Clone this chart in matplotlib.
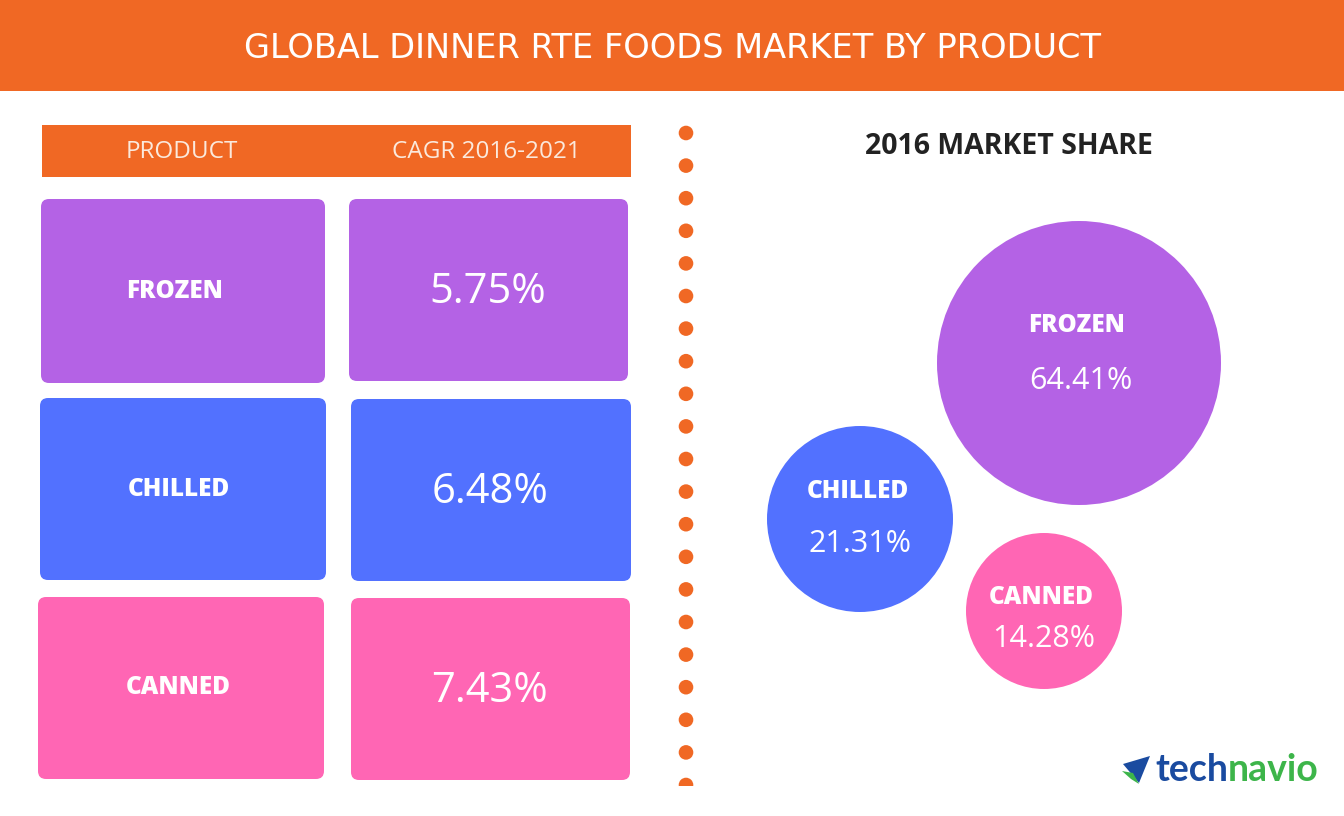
import matplotlib
matplotlib.use("Agg")
import matplotlib.pyplot as plt
from matplotlib.patches import FancyBboxPatch, Rectangle, Circle, Polygon

# ---- data ----
title = "GLOBAL DINNER RTE FOODS MARKET BY PRODUCT"
col_headers = ["PRODUCT", "CAGR 2016-2021"]
products = ["FROZEN", "CHILLED", "CANNED"]
cagr = [5.75, 6.48, 7.43]
share_title = "2016 MARKET SHARE"
share_2016 = [64.41, 21.31, 14.28]

# ---- style ----
ORANGE = "#F06824"
colors = ["#B462E5", "#5271FF", "#FF66B4"]
W, H = 1344, 816

fig = plt.figure(figsize=(W / 100, H / 100), dpi=100)
ax = fig.add_axes([0, 0, 1, 1])
ax.set_xlim(0, W)
ax.set_ylim(H, 0)
ax.axis("off")

FONT = "Open Sans"

# header
ax.add_patch(Rectangle((0, 0), W, 91, color=ORANGE, lw=0))
ax.text(672, 48, title, color="white", fontsize=24.2, family="DejaVu Sans",
        ha="center", va="center")

# table header
ax.add_patch(Rectangle((42, 125), 589, 52, color=ORANGE, lw=0))
ax.text(182, 152, col_headers[0], color="#FBE9DC", fontsize=17.5, family=FONT,
        ha="center", va="center")
ax.text(486, 152, col_headers[1], color="#FBE9DC", fontsize=17.5, family=FONT,
        ha="center", va="center")

# boxes
left_boxes = [(41, 199, 284, 184), (40, 398, 286, 182), (38, 597, 286, 182)]
right_boxes = [(349, 199, 279, 182), (351, 399, 280, 182), (351, 598, 279, 182)]
left_label_x = [175, 179, 178]
for i, name in enumerate(products):
    x, y, w, h = left_boxes[i]
    ax.add_patch(FancyBboxPatch((x + 8, y + 8), w - 16, h - 16,
                                boxstyle="round,pad=8", color=colors[i], lw=0))
    ax.text(left_label_x[i], y + h / 2, name, color="white", fontsize=17.5,
            family=FONT, weight="heavy", ha="center", va="center")
    x, y, w, h = right_boxes[i]
    ax.add_patch(FancyBboxPatch((x + 8, y + 8), w - 16, h - 16,
                                boxstyle="round,pad=8", color=colors[i], lw=0))
    ax.text(x + w / 2 - 1, y + h / 2 + 2, f"{cagr[i]:.2f}%", color="white",
            fontsize=30, family=FONT, ha="center", va="center")

# dotted divider (clipped at the bottom like the original)
clip = Rectangle((600, 100), 200, 686, transform=ax.transData)
y = 133.0
while y < 800:
    c = Circle((686, y), 7.3, color=ORANGE, lw=0)
    ax.add_patch(c)
    c.set_clip_path(clip)
    y += 32.6

# market share title
ax.text(1009, 147, share_title, color="#222222", fontsize=20.5, family=FONT,
        weight="bold", ha="center", va="center")

# bubbles
centers = [(1079, 363), (860, 519), (1044, 611)]
radii = [142, 93, 78]
label_off = [(-2, -38), (-2, -27), (-3, -14)]
val_off = [(2, 18), (0, 25), (0, 28)]
for i, name in enumerate(products):
    cx, cy = centers[i]
    ax.add_patch(Circle((cx, cy), radii[i], color=colors[i], lw=0))
    ax.text(cx + label_off[i][0], cy + label_off[i][1], name, color="white",
            fontsize=17.5, family=FONT, weight="heavy", ha="center", va="center")
    ax.text(cx + val_off[i][0], cy + val_off[i][1], f"{share_2016[i]:.2f}%",
            color="white", fontsize=22, family=FONT, ha="center", va="center")

# logo
ax.add_patch(Polygon([(1123, 764), (1150, 756), (1139, 783)], color="#1A4BA0", lw=0))
ax.add_patch(Polygon([(1122, 771), (1133, 773), (1139, 784), (1131, 779)],
                     color="#3DB54A", lw=0))
t1 = ax.text(1155, 770, "tech", color="#1A4BA0", fontsize=27, family="Lato",
             weight="bold", ha="left", va="center")
fig.canvas.draw()
bb = t1.get_window_extent(fig.canvas.get_renderer())
x_end = ax.transData.inverted().transform((bb.x1, bb.y0))[0]
ax.text(x_end, 770, "navio", color="#3DB54A", fontsize=27, family="Lato",
        weight="bold", ha="left", va="center")

fig.savefig("out.png", dpi=100)
